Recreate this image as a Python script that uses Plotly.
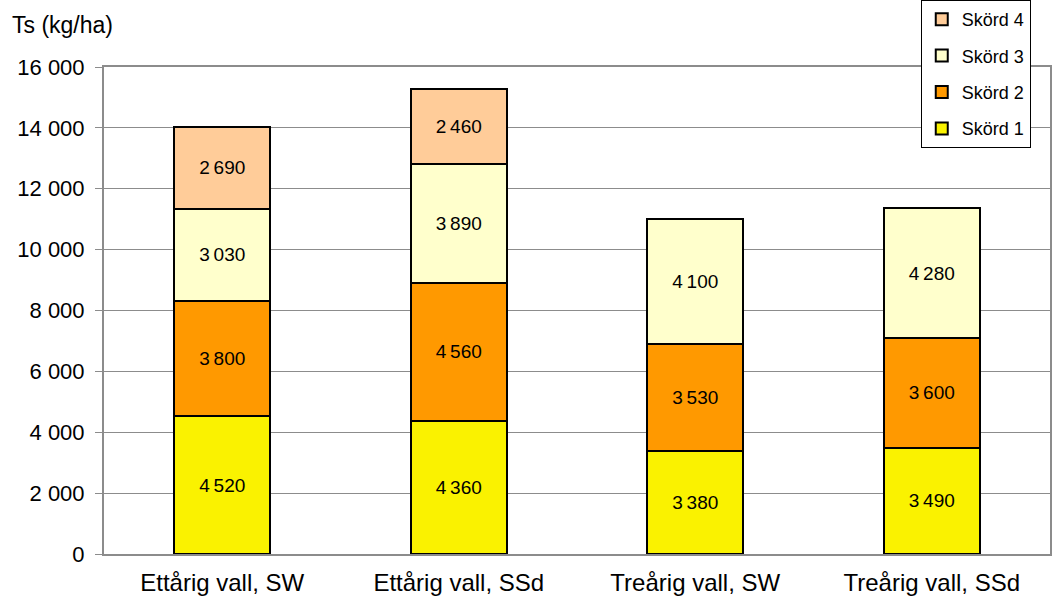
import plotly.graph_objects as go

categories = ["Ettårig vall, SW", "Ettårig vall, SSd", "Treårig vall, SW", "Treårig vall, SSd"]
skord1 = [4520, 4360, 3380, 3490]
skord2 = [3800, 4560, 3530, 3600]
skord3 = [3030, 3890, 4100, 4280]
skord4 = [2690, 2460, None, None]

series = [
    ("Skörd 1", skord1, "#FAF200"),
    ("Skörd 2", skord2, "#FF9900"),
    ("Skörd 3", skord3, "#FFFFCC"),
    ("Skörd 4", skord4, "#FFCC99"),
]

FONT = "Liberation Sans, Arial, sans-serif"


def fmt(v):
    if v is None:
        return ""
    return f"{v:,}".replace(",", "\u2009")


fig = go.Figure()
for i, (name, vals, color) in enumerate(series):
    fig.add_trace(go.Bar(
        x=categories, y=vals, name=name,
        legendgroup=name,
        legendrank=1000 - i,  # last harvest listed first in the legend
        marker=dict(color=color, line=dict(color="#000000", width=2)),
        text=[fmt(v) for v in vals],
        texttemplate="%{text}",
        textposition="inside",
        insidetextanchor="middle",
        textangle=0,
        constraintext="none",
        textfont=dict(family=FONT, size=19, color="#000000"),
        hoverinfo="skip",
    ))

fig.update_layout(
    barmode="stack",
    bargap=0.594,
    width=1062, height=596,
    margin=dict(l=104, r=12, t=67, b=42, autoexpand=False),
    paper_bgcolor="white",
    plot_bgcolor="white",
    separators=", ",
    font=dict(family=FONT, color="#000000"),
    showlegend=True,
    legend=dict(
        traceorder="grouped",
        xref="container", yref="container",
        x=0.867, y=1.0, xanchor="left", yanchor="top",
        bordercolor="#000000", borderwidth=1, bgcolor="white",
        font=dict(size=18, color="#000000"),
        tracegroupgap=10,
        itemwidth=30,
        entrywidth=110,
    ),
    annotations=[dict(
        text="Ts (kg/ha)", xref="paper", yref="paper",
        x=-0.099, y=1.055, xanchor="left", yanchor="bottom",
        showarrow=False, font=dict(size=23, color="#000000"),
    )],
)

fig.update_yaxes(
    range=[0, 16000], dtick=2000, tickformat=",d",
    showgrid=True, gridcolor="#8C8C8C", gridwidth=1,
    showline=True, linecolor="#8C8C8C", linewidth=2, mirror=True,
    ticks="outside", ticklen=7, tickcolor="#8C8C8C",
    ticklabelstandoff=6,
    tickfont=dict(size=22, color="#000000"),
    zeroline=False,
)
fig.update_xaxes(
    showline=True, linecolor="#8C8C8C", linewidth=2, mirror=True,
    ticks="", ticklabelstandoff=6,
    tickfont=dict(size=24, color="#000000"),
)

fig.write_html("out.html")
